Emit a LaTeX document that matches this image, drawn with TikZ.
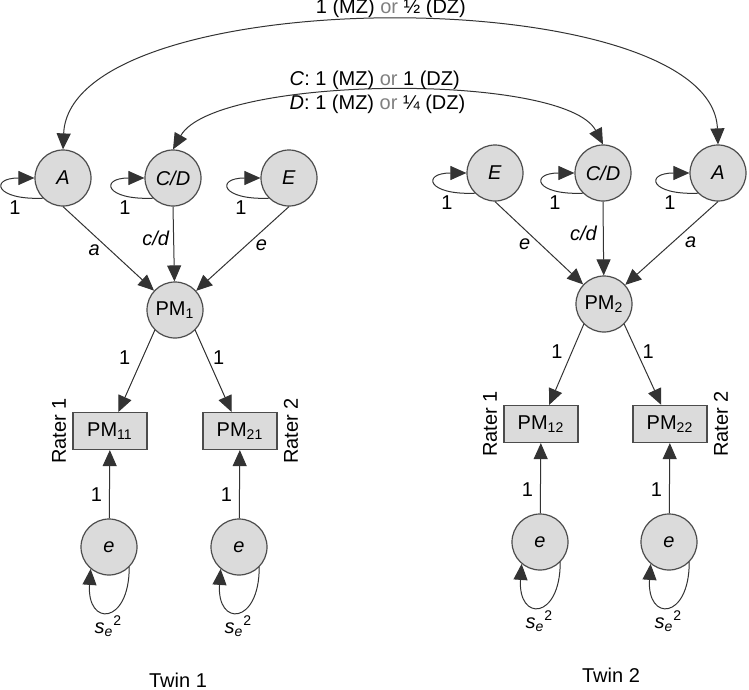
\documentclass[tikz,border=0pt]{standalone}
\usepackage{fontspec}
\setmainfont{Liberation Sans}
\usetikzlibrary{arrows.meta}

\begin{document}
\begin{tikzpicture}[x=0.5pt,y=-0.5pt]
	\tikzstyle{latent}=[circle,draw=black!70,fill=black!14,line width=0.6pt,minimum size=28pt,inner sep=0pt]
	\tikzstyle{obs}=[rectangle,draw=black!70,fill=black!14,line width=0.6pt,minimum width=37pt,minimum height=18.5pt,inner sep=0pt]
	\tikzstyle{arr}=[-{Triangle[length=8pt,width=7pt]},line width=0.5pt,draw=black!80]
	\tikzstyle{both}=[{Triangle[length=8pt,width=7pt]}-{Triangle[length=8pt,width=7pt]},line width=0.5pt,draw=black!80]
	\tikzstyle{lbl}=[inner sep=1pt,font=\itshape]
	\tikzstyle{num}=[inner sep=1pt]
	\tikzstyle{rater}=[rotate=90,inner sep=1pt]
	\useasboundingbox (0,0) rectangle (749,690);
	\node[latent] (A1) at (63,178) {\textit{A}};
	\node[latent] (CD1) at (173,178) {\textit{C/D}};
	\node[latent] (E1) at (289,178) {\textit{E}};
	\node[latent] (PM1) at (175,310) {PM\textsubscript{1}};
	\node[obs] (PM11) at (110,431) {PM\textsubscript{11}};
	\node[obs] (PM21) at (240,431) {PM\textsubscript{21}};
	\node[latent] (e11) at (109,547) {\textit{e}};
	\node[latent] (e21) at (239,547) {\textit{e}};
	\node[latent] (E2) at (495,173) {\textit{E}};
	\node[latent] (CD2) at (603,173) {\textit{C/D}};
	\node[latent] (A2) at (718,173) {\textit{A}};
	\node[latent] (PM2) at (604,304) {PM\textsubscript{2}};
	\node[obs] (PM12) at (541,424) {PM\textsubscript{12}};
	\node[obs] (PM22) at (670,424) {PM\textsubscript{22}};
	\node[latent] (e12) at (540,542) {\textit{e}};
	\node[latent] (e22) at (669,542) {\textit{e}};
	\node[rater,anchor=south] (r11) at ([xshift=-2pt]PM11.west) {Rater 1};
	\node[rater,anchor=north] (r21) at ([xshift=2pt]PM21.east) {Rater 2};
	\node[rater,anchor=south] (r12) at ([xshift=-2pt]PM12.west) {Rater 1};
	\node[rater,anchor=north] (r22) at ([xshift=2pt]PM22.east) {Rater 2};
	\node (twin1) at (178,680) {Twin 1};
	\node (twin2) at (611,675) {Twin 2};
	\draw[both] (A1.north) .. controls (70,-20) and (712,-20) .. (A2.north) node[num,pos=.5,above=1pt] {1 (MZ) \textcolor{black!50}{or} ½ (DZ)};
	\draw[both] (CD1.north) .. controls (215,75) and (565,72) .. (CD2.north) node[num,pos=.5,xshift=-6pt,align=left] {\textit{C}: 1 (MZ) \textcolor{black!50}{or} 1 (DZ)\\\textit{D}: 1 (MZ) \textcolor{black!50}{or} ¼ (DZ)};
	\draw[arr] (A1.225) .. controls +(-48,2) and +(-45,0) .. (A1.180) node[num,pos=.25,below=1pt] {1};
	\draw[arr] (CD1.225) .. controls +(-48,2) and +(-45,0) .. (CD1.180) node[num,pos=.25,below=1pt] {1};
	\draw[arr] (E1.225) .. controls +(-48,2) and +(-45,0) .. (E1.180) node[num,pos=.25,below=1pt] {1};
	\draw[arr] (E2.225) .. controls +(-48,2) and +(-45,0) .. (E2.180) node[num,pos=.25,below=1pt] {1};
	\draw[arr] (CD2.225) .. controls +(-48,2) and +(-45,0) .. (CD2.180) node[num,pos=.25,below=1pt] {1};
	\draw[arr] (A2.225) .. controls +(-48,2) and +(-45,0) .. (A2.180) node[num,pos=.25,below=1pt] {1};
	\draw[arr] (A1.south) -- (PM1) node[lbl,pos=.52,left=4pt] {a};
	\draw[arr] (CD1.south) -- (PM1) node[lbl,pos=.42,left=1pt] {c/d};
	\draw[arr] (E1.south) -- (PM1) node[lbl,pos=.46,right=3.5pt] {e};
	\draw[arr] (E2.south) -- (PM2) node[lbl,pos=.52,left=4pt] {e};
	\draw[arr] (CD2.south) -- (PM2) node[lbl,pos=.43,left=2pt] {c/d};
	\draw[arr] (A2.south) -- (PM2) node[lbl,pos=.49,right=5pt] {a};
	\draw[arr] (PM1.south west) -- (PM11) node[num,pos=.33,left=5pt] {1};
	\draw[arr] (PM1.south east) -- (PM21) node[num,pos=.33,right=1.7pt] {1};
	\draw[arr] (PM2.south west) -- (PM12) node[num,pos=.34,left=3.5pt] {1};
	\draw[arr] (PM2.south east) -- (PM22) node[num,pos=.34,right=1.7pt] {1};
	\draw[arr] (e11) -- (PM11) node[num,pos=.35,left=2.5pt] {1};
	\draw[arr] (e21) -- (PM21) node[num,pos=.35,left=2.5pt] {1};
	\draw[arr] (e12) -- (PM12) node[num,pos=.34,left=2.5pt] {1};
	\draw[arr] (e22) -- (PM22) node[num,pos=.34,left=2.5pt] {1};
	\draw[arr] (e11.-45) .. controls +(0,58) and +(-4,58) .. (e11.-130) node[lbl,pos=.5,below=1pt] {s\textsubscript{e}\textsuperscript{\upshape 2}};
	\draw[arr] (e21.-45) .. controls +(0,58) and +(-4,58) .. (e21.-130) node[lbl,pos=.5,below=1pt] {s\textsubscript{e}\textsuperscript{\upshape 2}};
	\draw[arr] (e12.-45) .. controls +(0,58) and +(-4,58) .. (e12.-130) node[lbl,pos=.5,below=1pt] {s\textsubscript{e}\textsuperscript{\upshape 2}};
	\draw[arr] (e22.-45) .. controls +(0,58) and +(-4,58) .. (e22.-130) node[lbl,pos=.5,below=1pt] {s\textsubscript{e}\textsuperscript{\upshape 2}};
\end{tikzpicture}
\end{document}
